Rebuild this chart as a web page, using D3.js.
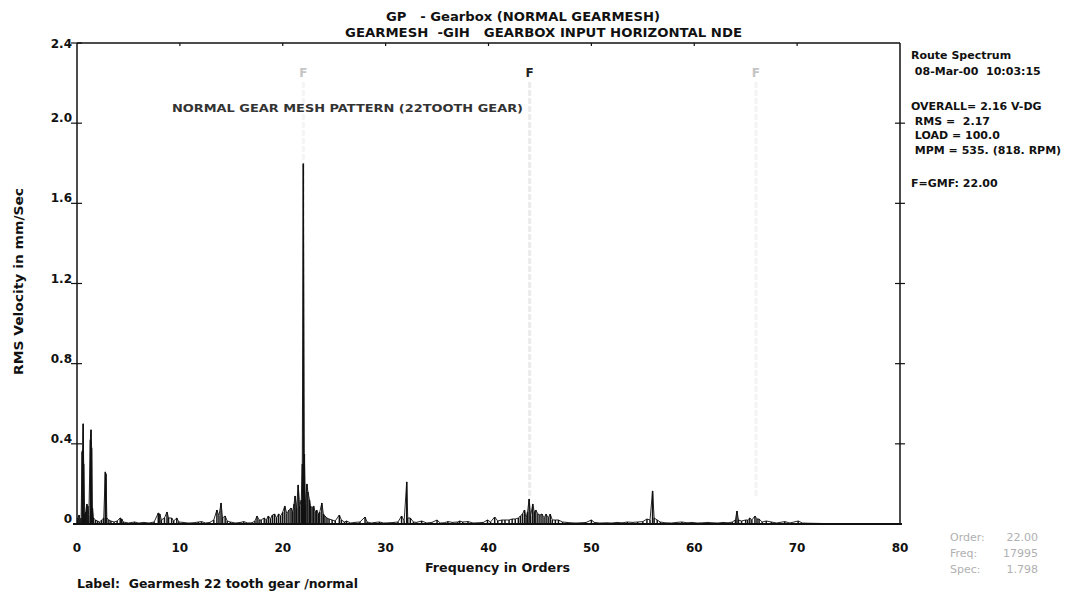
<!DOCTYPE html>
<meta charset="utf-8">
<script src="https://d3js.org/d3.v7.min.js"></script>
<style>
  body { margin: 0; background: #fff; }
  svg text { font-family: "DejaVu Sans", "Liberation Sans", Arial, sans-serif; fill: #111; white-space: pre; }
  .b { font-weight: bold; }
</style>
<body>
<div id="my_dataviz"></div>
<script>

// spectrum: order, RMS velocity (mm/Sec)
var orders = [0.0,0.1,0.2,0.3,0.4,0.5,0.55,0.6,0.65,0.75,0.85,0.95,1.05,1.15,1.3,1.36,1.42,1.5,1.6,1.8,
  2.0,2.2,2.4,2.6,2.75,2.82,2.9,3.1,3.3,3.6,3.9,4.2,4.35,4.5,5.0,5.6,6.0,6.5,7.0,7.5,
  7.9,8.05,8.2,8.5,8.75,8.9,9.2,9.4,9.7,9.9,10.3,10.8,11.3,11.8,12.1,12.5,12.9,13.3,13.6,13.8,
  14.0,14.15,14.4,14.6,14.9,15.4,15.9,16.2,16.6,17.0,17.3,17.5,17.7,17.9,18.2,18.4,18.6,18.8,19.0,19.2,
  19.4,19.6,19.8,20.0,20.2,20.4,20.6,20.8,20.95,21.1,21.2,21.35,21.5,21.65,21.8,21.9,22.0,22.1,22.2,22.35,
  22.45,22.6,22.7,22.85,23.0,23.15,23.3,23.45,23.6,23.8,23.95,24.1,24.3,24.5,24.8,25.1,25.5,25.7,26.0,26.2,
  26.6,27.0,27.5,28.0,28.2,28.6,29.0,29.4,29.8,30.3,30.8,31.2,31.55,31.8,32.05,32.15,32.4,32.7,33.0,33.5,
  34.0,34.5,35.0,35.3,35.7,36.05,36.5,37.0,37.2,37.5,38.0,38.5,39.0,39.5,39.9,40.2,40.6,40.9,41.3,41.6,
  42.0,42.3,42.6,42.9,43.1,43.3,43.5,43.65,43.8,43.95,44.1,44.3,44.45,44.6,44.8,45.0,45.2,45.4,45.6,45.8,
  46.0,46.2,46.5,46.8,47.2,47.6,48.0,48.5,49.0,49.5,50.0,50.3,50.8,51.5,52.0,52.5,53.0,53.5,54.0,54.5,
  55.0,55.4,55.7,55.95,56.1,56.4,56.7,57.2,57.8,58.3,58.8,59.3,59.8,60.3,60.8,61.3,61.8,62.3,62.8,63.3,
  63.7,64.0,64.15,64.3,64.6,65.0,65.2,65.4,65.6,65.9,66.1,66.3,66.6,67.0,67.5,68.0,68.8,69.3,70.1,70.5,
  71.0,72.0,73.0,80.0];
var amps = [0.0,0.03,0.045,0.02,0.03,0.36,0.37,0.50,0.30,0.05,0.06,0.10,0.09,0.04,0.42,0.47,0.38,0.08,0.03,0.02,
  0.015,0.01,0.02,0.03,0.26,0.25,0.03,0.02,0.015,0.01,0.015,0.03,0.025,0.01,0.005,0.01,0.005,0.008,0.005,0.01,
  0.055,0.05,0.02,0.03,0.06,0.03,0.03,0.015,0.03,0.01,0.008,0.005,0.006,0.01,0.012,0.005,0.008,0.02,0.07,0.04,
  0.105,0.03,0.04,0.015,0.01,0.005,0.008,0.012,0.005,0.006,0.015,0.04,0.02,0.02,0.03,0.02,0.04,0.025,0.045,0.05,
  0.03,0.05,0.04,0.06,0.09,0.05,0.07,0.08,0.06,0.10,0.14,0.08,0.195,0.09,0.12,0.30,1.798,0.35,0.10,0.20,
  0.16,0.12,0.09,0.08,0.09,0.06,0.07,0.05,0.06,0.105,0.05,0.04,0.03,0.025,0.02,0.015,0.045,0.02,0.01,0.015,
  0.005,0.008,0.01,0.035,0.01,0.005,0.008,0.01,0.005,0.006,0.008,0.01,0.04,0.015,0.21,0.03,0.03,0.01,0.008,0.015,
  0.005,0.008,0.02,0.005,0.006,0.012,0.008,0.01,0.015,0.01,0.012,0.005,0.006,0.008,0.02,0.01,0.035,0.015,0.02,0.02,
  0.02,0.025,0.025,0.03,0.04,0.05,0.07,0.03,0.06,0.125,0.04,0.10,0.06,0.07,0.05,0.045,0.05,0.03,0.05,0.03,
  0.05,0.02,0.02,0.02,0.01,0.008,0.006,0.005,0.006,0.008,0.02,0.008,0.005,0.006,0.005,0.008,0.006,0.01,0.008,0.01,
  0.012,0.025,0.02,0.165,0.03,0.02,0.01,0.006,0.005,0.008,0.01,0.006,0.008,0.005,0.006,0.008,0.006,0.005,0.008,0.006,
  0.01,0.02,0.065,0.02,0.015,0.02,0.02,0.03,0.02,0.04,0.025,0.025,0.01,0.015,0.01,0.005,0.012,0.005,0.015,0.005,
  0.004,0.003,0.002,0.0];

var xTicks = [0, 10, 20, 30, 40, 50, 60, 70, 80];
var yTicks = [0, 0.4, 0.8, 1.2, 1.6, 2.0, 2.4];
var yTickLabels = ["0", "0.4", "0.8", "1.2", "1.6", "2.0", "2.4"];
var gmfHarmonics = [22, 44, 66];

var titleLines = ["GP   - Gearbox (NORMAL GEARMESH)", "GEARMESH  -GIH   GEARBOX INPUT HORIZONTAL NDE"];
var infoLines = ["Route Spectrum", " 08-Mar-00  10:03:15", "OVERALL= 2.16 V-DG", " RMS =  2.17",
                 " LOAD = 100.0", " MPM = 535. (818. RPM)", "F=GMF: 22.00"];
var cursorLabels = ["Order:", "Freq:", "Spec:"];
var cursorValues = ["22.00", "17995", "1.798"];

var W = 1087, H = 595;
var svg = d3.select("#my_dataviz").append("svg")
    .attr("width", W).attr("height", H);

var x = d3.scaleLinear().domain([0, 80]).range([77, 900]);
var y = d3.scaleLinear().domain([0, 2.4]).range([524, 43]);

// faint harmonic cursor lines
svg.selectAll("hline").data(gmfHarmonics).enter().append("line")
    .attr("x1", d => x(d)).attr("x2", d => x(d))
    .attr("y1", 82).attr("y2", y(0.14))
    .attr("stroke", (d, i) => i == 1 ? "#ebebeb" : "#f4f4f4")
    .attr("stroke-width", 3)
    .attr("stroke-dasharray", "6,2");

svg.selectAll("fmark").data(gmfHarmonics).enter().append("text")
    .attr("class", "b")
    .attr("x", d => x(d)).attr("y", 77)
    .attr("text-anchor", "middle")
    .style("font-size", "12px")
    .style("fill", (d, i) => i == 1 ? "#222" : "#c4c4c4")
    .text("F");

// frame: top, left, right, bottom
var frame = svg.append("g").attr("stroke", "#111").attr("stroke-width", 1.5);
frame.append("line").attr("x1", x(0)).attr("x2", x(80)).attr("y1", y(2.4)).attr("y2", y(2.4));
frame.append("line").attr("x1", x(0)).attr("x2", x(0)).attr("y1", y(2.4)).attr("y2", y(0));
frame.append("line").attr("x1", x(80)).attr("x2", x(80)).attr("y1", y(2.4)).attr("y2", y(0));
frame.append("line").attr("x1", x(0) - 4).attr("x2", x(80) + 2).attr("y1", y(0)).attr("y2", y(0))
    .attr("stroke-width", 2);

// y ticks (crossing both side axes)
frame.selectAll("ytl").data(yTicks.slice(1)).enter().append("line")
    .attr("x1", x(0) - 6).attr("x2", x(0) + 5)
    .attr("y1", d => y(d)).attr("y2", d => y(d)).attr("stroke-width", 1.2);
frame.selectAll("ytr").data(yTicks.slice(1, -1)).enter().append("line")
    .attr("x1", x(80) - 5).attr("x2", x(80) + 5)
    .attr("y1", d => y(d)).attr("y2", d => y(d)).attr("stroke-width", 1.2);
// top ticks
frame.selectAll("xtt").data(xTicks.slice(1, -1)).enter().append("line")
    .attr("x1", d => x(d)).attr("x2", d => x(d))
    .attr("y1", y(2.4)).attr("y2", y(2.4) + 3).attr("stroke-width", 1.2);

svg.selectAll("ylab").data(yTicks).enter().append("text")
    .attr("class", "b")
    .attr("x", 72).attr("y", (d, i) => y(d) + (i == 6 ? 5 : -1))
    .attr("text-anchor", "end")
    .style("font-size", "12px")
    .text((d, i) => yTickLabels[i]);

svg.selectAll("xlab").data(xTicks).enter().append("text")
    .attr("class", "b")
    .attr("x", d => x(d)).attr("y", 552)
    .attr("text-anchor", "middle")
    .style("font-size", "12px")
    .text(d => d);

// spectrum
var pts = orders.map((o, i) => [o, amps[i]]);
svg.append("g").selectAll("line").data(pts).enter().append("line")
    .attr("x1", d => x(d[0])).attr("x2", d => x(d[0]))
    .attr("y1", y(0)).attr("y2", d => y(d[1]))
    .attr("stroke", "#111").attr("stroke-width", 1.5);
svg.append("path").datum(pts)
    .attr("fill", "none").attr("stroke", "#111").attr("stroke-width", 0.9)
    .attr("d", d3.line().x(d => x(d[0])).y(d => y(d[1])));

// titles
var titleX = [386, 345], titleW = [274, 397];
svg.selectAll("title").data(titleLines).enter().append("text")
    .attr("class", "b")
    .attr("x", (d, i) => titleX[i]).attr("y", (d, i) => 21 + i * 16)
    .attr("textLength", (d, i) => titleW[i]).attr("lengthAdjust", "spacingAndGlyphs")
    .style("font-size", "11.5px")
    .text(d => d);

svg.append("text")
    .attr("x", 172).attr("y", 112)
    .style("font-size", "11px").style("font-weight", "bold")
    .attr("textLength", 351).attr("lengthAdjust", "spacingAndGlyphs")
    .style("fill", "#333")
    .text("NORMAL GEAR MESH PATTERN (22TOOTH GEAR)");

var infoY = [59, 75, 110, 125, 139, 154, 187];
svg.selectAll("info").data(infoLines).enter().append("text")
    .attr("class", "b")
    .attr("x", 911).attr("y", (d, i) => infoY[i])
    .style("font-size", "11px")
    .text(d => d);

// axis titles
svg.append("text")
    .attr("class", "b")
    .attr("transform", "translate(23,282) rotate(-90)")
    .attr("x", -93)
    .attr("textLength", 187).attr("lengthAdjust", "spacingAndGlyphs")
    .style("font-size", "11.5px")
    .text("RMS Velocity in mm/Sec");

svg.append("text")
    .attr("class", "b")
    .attr("x", 425).attr("y", 572)
    .attr("textLength", 145).attr("lengthAdjust", "spacingAndGlyphs")
    .style("font-size", "12.5px")
    .text("Frequency in Orders");

svg.append("text")
    .attr("x", 77).attr("y", 588)
    .attr("textLength", 281).attr("lengthAdjust", "spacingAndGlyphs")
    .style("font-size", "12px").style("font-weight", "600")
    .text("Label:  Gearmesh 22 tooth gear /normal");

// cursor readout
svg.selectAll("cl").data(cursorLabels).enter().append("text")
    .attr("x", 950).attr("y", (d, i) => 541 + i * 16)
    .style("font-size", "11px").style("fill", "#b0b0b0")
    .text(d => d);
svg.selectAll("cv").data(cursorValues).enter().append("text")
    .attr("x", 1038).attr("y", (d, i) => 541 + i * 16)
    .attr("text-anchor", "end")
    .style("font-size", "11px").style("fill", "#b0b0b0")
    .text(d => d);

</script>
</body>
